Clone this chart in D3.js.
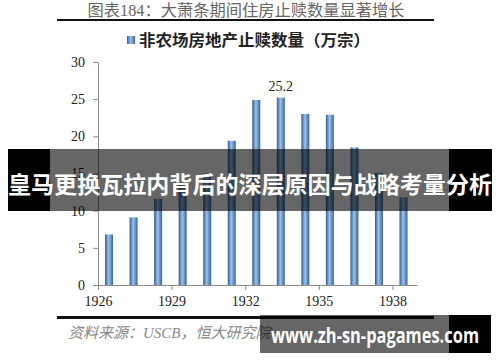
<!DOCTYPE html>
<html>
<head>
    <meta charset="utf-8">
    <script src="https://d3js.org/d3.v7.min.js"></script>
    <style>
        body { margin: 0; background: #fff; }
        svg { display: block; }
        .axis path, .axis line { stroke: #8c8c8c; }
        .axis text { font-family: "Liberation Serif", serif; font-size: 14px; fill: #222; }
    </style>
</head>
<body>
<div id="chart"></div>
<script>
    // data (万宗)
    var years = [1926, 1927, 1928, 1929, 1930, 1931, 1932, 1933, 1934, 1935, 1936, 1937, 1938];
    var foreclosures = [6.8, 9.1, 11.6, 13.5, 15.0, 19.4, 24.9, 25.2, 23.0, 22.9, 18.5, 15.1, 11.8];
    var yTicks = [0, 5, 10, 15, 20, 25, 30];
    var xTicks = [1926, 1929, 1932, 1935, 1938];
    var labelled = [1933];

    var title = "图表184：大萧条期间住房止赎数量显著增长";
    var legendText = "非农场房地产止赎数量（万宗）";
    var sourceText = "资料来源：USCB，恒大研究院";
    var bannerText = "皇马更换瓦拉内背后的深层原因与战略考量分析";
    var watermark = "www.zh-sn-pagames.com";

    var W = 500, H = 362;
    var svg = d3.select("#chart").append("svg").attr("width", W).attr("height", H);

    // bar gradient
    var grad = svg.append("defs").append("linearGradient")
        .attr("id", "barGrad").attr("x1", "0%").attr("x2", "100%").attr("y1", "0%").attr("y2", "0%");
    grad.append("stop").attr("offset", "0%").attr("stop-color", "#2e5c92");
    grad.append("stop").attr("offset", "45%").attr("stop-color", "#9cc2ea");
    grad.append("stop").attr("offset", "100%").attr("stop-color", "#34659d");

    // title + rule
    svg.append("text")
        .attr("x", 246).attr("y", 16)
        .attr("text-anchor", "middle")
        .attr("textLength", 317)
        .attr("lengthAdjust", "spacingAndGlyphs")
        .style("font-family", "'Liberation Serif', 'Noto Sans CJK SC'")
        .style("font-size", "16px")
        .style("fill", "#666")
        .text(title);
    svg.append("line").attr("x1", 57).attr("x2", 434).attr("y1", 20).attr("y2", 20)
        .attr("stroke", "#111").attr("stroke-width", 2);

    // legend
    svg.append("rect").attr("x", 127).attr("y", 36).attr("width", 8).attr("height", 8)
        .attr("fill", "url(#barGrad)");
    svg.append("text")
        .attr("x", 139).attr("y", 46)
        .attr("textLength", 231)
        .attr("lengthAdjust", "spacingAndGlyphs")
        .style("font-family", "'Noto Sans CJK SC'")
        .style("font-size", "16px")
        .style("font-weight", "bold")
        .style("fill", "#222")
        .text(legendText);

    // scales
    var x = d3.scaleLinear().domain([1926, 1939]).range([98, 417]);
    var y = d3.scaleLinear().domain([0, 30]).range([285, 62]);
    var barW = 8;

    // axes
    svg.append("g").attr("class", "axis")
        .attr("transform", "translate(98,0)")
        .call(d3.axisLeft(y).tickValues(yTicks).tickSize(5).tickSizeOuter(0).tickPadding(8));

    svg.append("g").attr("class", "axis")
        .attr("transform", "translate(0,285)")
        .call(d3.axisBottom(x).tickValues(xTicks).tickFormat(d3.format("d")).tickSize(5).tickSizeOuter(0).tickPadding(6));

    // bars
    svg.selectAll(".bar")
        .data(years)
        .enter()
        .append("rect")
        .attr("class", "bar")
        .attr("x", function (d) { return x(d + 0.45) - barW / 2; })
        .attr("y", function (d, i) { return y(foreclosures[i]); })
        .attr("width", barW)
        .attr("height", function (d, i) { return y(0) - y(foreclosures[i]); })
        .attr("fill", "url(#barGrad)");

    // value label
    svg.selectAll(".vlabel")
        .data(labelled)
        .enter()
        .append("text")
        .attr("x", function (d) { return x(d + 0.45); })
        .attr("y", function (d) { return y(foreclosures[years.indexOf(d)]) - 7; })
        .attr("text-anchor", "middle")
        .style("font-family", "'Liberation Serif', serif")
        .style("font-size", "14px")
        .style("fill", "#222")
        .text(function (d) { return foreclosures[years.indexOf(d)].toFixed(1); });

    // bottom rule + source
    svg.append("line").attr("x1", 57).attr("x2", 434).attr("y1", 317.5).attr("y2", 317.5)
        .attr("stroke", "#111").attr("stroke-width", 3);
    svg.append("text")
        .attr("x", 68).attr("y", 338)
        .style("font-family", "'Liberation Serif', 'Noto Sans CJK SC'")
        .style("font-size", "15px")
        .style("font-style", "italic")
        .style("fill", "#888")
        .text(sourceText);
    svg.append("text")
        .attr("x", 370).attr("y", 342)
        .style("font-family", "'Noto Sans CJK SC'")
        .style("font-size", "10px")
        .style("fill", "#bbb")
        .text("爱国地产观察");

    // overlay banner
    svg.append("rect").attr("x", 8).attr("y", 149).attr("width", 42).attr("height", 62).attr("fill", "#000");
    svg.append("rect").attr("x", 50).attr("y", 149).attr("width", 399).attr("height", 62).attr("fill", "#000").attr("opacity", 0.6);
    svg.append("rect").attr("x", 449).attr("y", 149).attr("width", 43).attr("height", 62).attr("fill", "#000");
    svg.append("text")
        .attr("x", 250).attr("y", 193)
        .attr("text-anchor", "middle")
        .attr("textLength", 484)
        .attr("lengthAdjust", "spacingAndGlyphs")
        .style("font-family", "'Noto Sans CJK SC'")
        .style("font-size", "23px")
        .style("font-weight", "bold")
        .style("fill", "#fff")
        .text(bannerText);

    // watermark box
    svg.append("rect").attr("x", 260).attr("y", 315).attr("width", 189).attr("height", 38).attr("fill", "#000").attr("opacity", 0.6);
    svg.append("rect").attr("x", 449).attr("y", 315).attr("width", 42).attr("height", 38).attr("fill", "#000");
    svg.append("text")
        .attr("x", 271).attr("y", 343)
        .attr("textLength", 208)
        .attr("lengthAdjust", "spacingAndGlyphs")
        .style("font-family", "'Open Sans', sans-serif")
        .style("font-size", "21px")
        .style("font-weight", "bold")
        .style("fill", "#fff")
        .text(watermark);
</script>
</body>
</html>
